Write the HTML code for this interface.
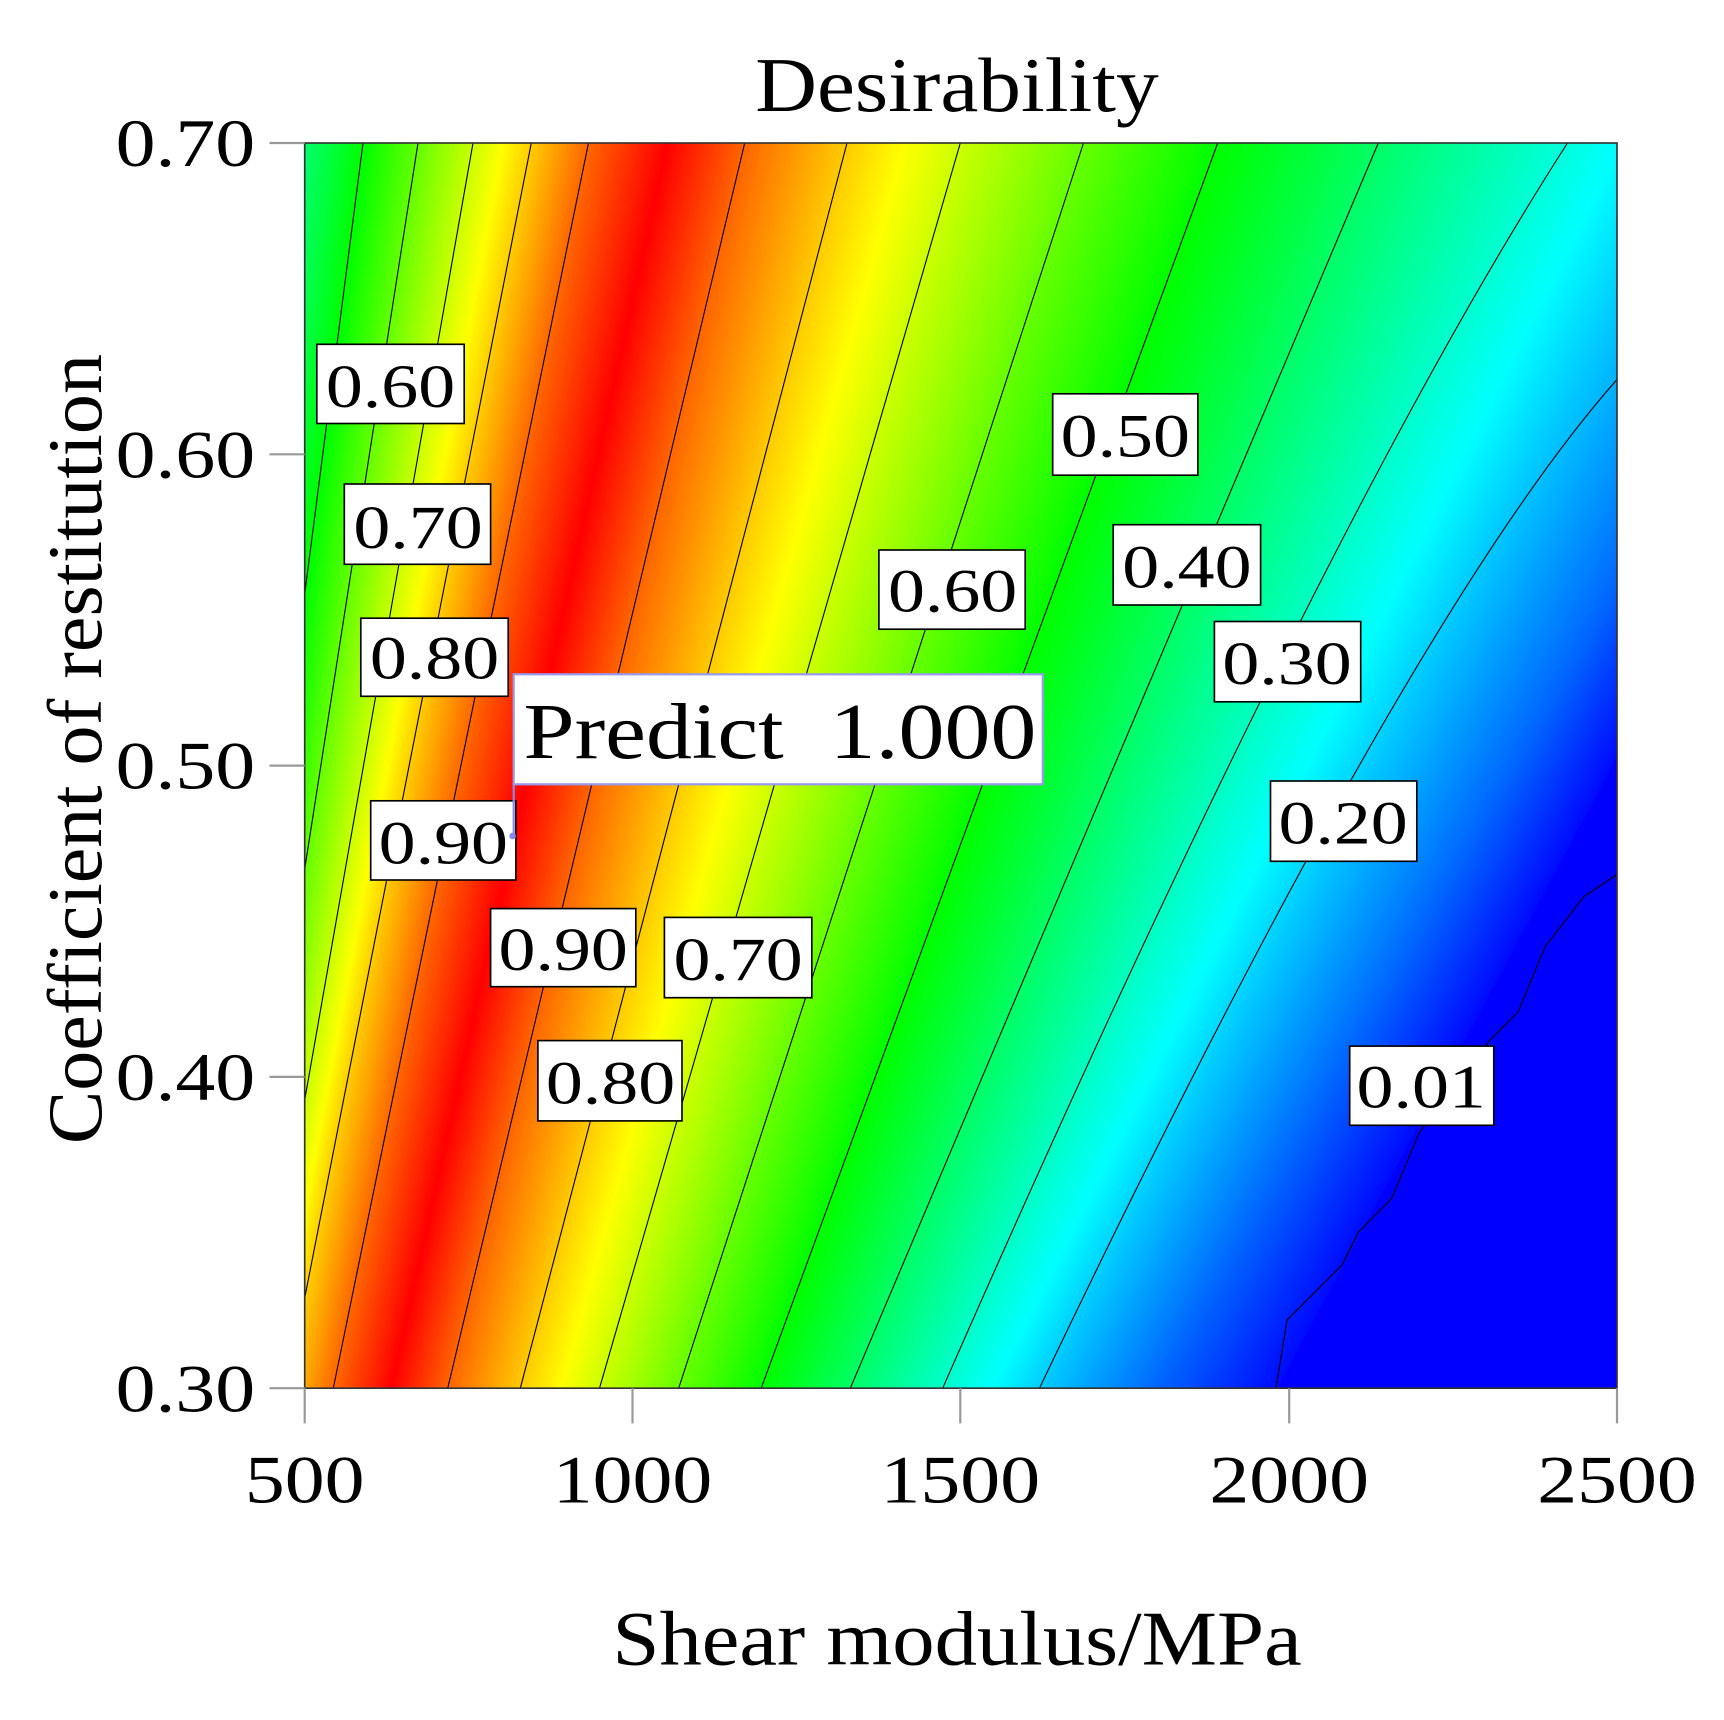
<!DOCTYPE html>
<html><head><meta charset="utf-8">
<style>
html,body{margin:0;padding:0;background:#fff;}
#wrap{position:relative;width:1724px;height:1720px;overflow:hidden;}
canvas{position:absolute;left:305px;top:143px;}
svg{position:absolute;left:0;top:0;}
text{font-family:"Liberation Serif",serif;fill:#000;}
</style></head><body>
<div id="wrap">
<canvas id="c" width="1312" height="1245"></canvas>
<svg width="1724" height="1720" viewBox="0 0 1567.27 1563.64">
<g stroke="#000" stroke-width="1" fill="none">
<line x1="330" y1="130" x2="277" y2="540"/>
<line x1="380" y1="130" x2="277" y2="790"/>
<line x1="430" y1="130" x2="277" y2="1000"/>
<line x1="483" y1="130" x2="277" y2="1180"/>
<line x1="535" y1="130" x2="303" y2="1262"/>
<line x1="677" y1="130" x2="407" y2="1262"/>
<line x1="770" y1="130" x2="473" y2="1262"/>
<line x1="873" y1="130" x2="545" y2="1262"/>
<line x1="985" y1="130" x2="617" y2="1262"/>
<line x1="1107" y1="130" x2="692" y2="1262"/>
<line x1="1253" y1="130" x2="773" y2="1262"/>
<path d="M1425,130 Q1200,480 857,1262"/>
<path d="M1470,345 Q1280,560 945,1262"/>
<polyline points="1470,795 1440,815 1405,860 1380,920 1355,945 1290,1030 1265,1090 1235,1120 1220,1150 1170,1200 1160,1262"/>
</g>
<rect x="277" y="130" width="1193" height="1132" fill="none" stroke="#333" stroke-width="1.5"/>
<g stroke="#999" stroke-width="2">
<line x1="245" y1="130" x2="277" y2="130"/><line x1="245" y1="413" x2="277" y2="413"/>
<line x1="245" y1="696" x2="277" y2="696"/><line x1="245" y1="979" x2="277" y2="979"/>
<line x1="245" y1="1262" x2="277" y2="1262"/>
<line x1="277" y1="1262" x2="277" y2="1294"/><line x1="575" y1="1262" x2="575" y2="1294"/>
<line x1="873" y1="1262" x2="873" y2="1294"/><line x1="1172" y1="1262" x2="1172" y2="1294"/>
<line x1="1470" y1="1262" x2="1470" y2="1294"/>
</g>
<g font-size="62" text-anchor="end">
<text transform="translate(232,151) scale(1.17,1)">0.70</text>
<text transform="translate(232,434) scale(1.17,1)">0.60</text>
<text transform="translate(232,717) scale(1.17,1)">0.50</text>
<text transform="translate(232,1000) scale(1.17,1)">0.40</text>
<text transform="translate(232,1283) scale(1.17,1)">0.30</text>
</g>
<g font-size="62" text-anchor="middle">
<text transform="translate(277,1366) scale(1.17,1)">500</text>
<text transform="translate(575,1366) scale(1.17,1)">1000</text>
<text transform="translate(873,1366) scale(1.17,1)">1500</text>
<text transform="translate(1172,1366) scale(1.17,1)">2000</text>
<text transform="translate(1470,1366) scale(1.17,1)">2500</text>
</g>
<text transform="translate(870,101) scale(1.11,1)" font-size="70" text-anchor="middle">Desirability</text>
<text transform="translate(870,1513) scale(1.1,1)" font-size="70" text-anchor="middle">Shear modulus/MPa</text>
<text transform="translate(92,681) rotate(-90) scale(1.04,1)" font-size="70" text-anchor="middle">Coefficient of restitution</text>
<g stroke="#000" stroke-width="1.5" fill="#fff">
<rect x="288" y="313" width="134" height="72"/><rect x="313" y="440" width="133" height="73"/>
<rect x="328" y="562" width="134" height="71"/><rect x="337" y="728" width="132" height="72"/>
<rect x="446" y="826" width="132" height="71"/><rect x="604" y="834" width="134" height="73"/>
<rect x="489" y="946" width="131" height="73"/><rect x="799" y="500" width="133" height="72"/>
<rect x="957" y="358" width="132" height="74"/><rect x="1012" y="477" width="134" height="73"/>
<rect x="1104" y="565" width="133" height="73"/><rect x="1155" y="710" width="133" height="73"/>
<rect x="1227" y="951" width="131" height="72"/>
</g>
<g font-size="56" text-anchor="middle">
<text transform="translate(355,370) scale(1.2,1)">0.60</text>
<text transform="translate(380,498) scale(1.2,1)">0.70</text>
<text transform="translate(395,617) scale(1.2,1)">0.80</text>
<text transform="translate(403,785) scale(1.2,1)">0.90</text>
<text transform="translate(512,882) scale(1.2,1)">0.90</text>
<text transform="translate(671,891) scale(1.2,1)">0.70</text>
<text transform="translate(555,1003) scale(1.2,1)">0.80</text>
<text transform="translate(866,556) scale(1.2,1)">0.60</text>
<text transform="translate(1023,415) scale(1.2,1)">0.50</text>
<text transform="translate(1079,534) scale(1.2,1)">0.40</text>
<text transform="translate(1170,622) scale(1.2,1)">0.30</text>
<text transform="translate(1221,767) scale(1.2,1)">0.20</text>
<text transform="translate(1292,1007) scale(1.2,1)">0.01</text>
</g>
<line x1="467" y1="713" x2="467" y2="760" stroke="#8888ee" stroke-width="2"/>
<circle cx="466" cy="760" r="3" fill="#8888ee"/>
<rect x="467" y="613" width="481" height="100" fill="#fff" stroke="#9999ee" stroke-width="2"/>
<text transform="translate(709,689) scale(1.16,1)" font-size="72" text-anchor="middle" xml:space="preserve">Predict  1.000</text>
</svg>
</div>
<script>
(function(){
var lines=[[330,277,540,0.5,1],[380,277,790,0.6,1],[430,277,1000,0.7,1],[483,277,1180,0.8,1],
[535,303,1262,0.9,0],[606,355,1262,1.0,0],[677,407,1262,0.9,0],[770,473,1262,0.8,0],[873,545,1262,0.7,0],
[985,617,1262,0.6,0],[1107,692,1262,0.5,0],[1253,773,1262,0.4,0],[1400,857,1262,0.3,0],[1545,945,1262,0.2,0],[1700,1050,1262,0.1,0],[1770,1160,1262,0.01,0]];
function xAt(l,y){var x1=l[0],y1=130,x2=l[1],y2=l[2];return x1+(x2-x1)*(y-y1)/(y2-y1);}
function col(v){v=Math.max(0,Math.min(1,v));var s=[[0,0,0,255],[0.25,0,255,255],[0.5,0,255,0],[0.75,255,255,0],[1,255,0,0]];
for(var i=0;i<4;i++){if(v<=s[i+1][0]){var t=(v-s[i][0])/(s[i+1][0]-s[i][0]);return[s[i][1]+(s[i+1][1]-s[i][1])*t,s[i][2]+(s[i+1][2]-s[i][2])*t,s[i][3]+(s[i+1][3]-s[i][3])*t];}}return[255,0,0];}
var c=document.getElementById('c'),ctx=c.getContext('2d'),W=c.width,H=c.height,img=ctx.createImageData(W,H),d=img.data;
for(var py=0;py<H;py++){var y=130+py/1.1;var xs=lines.map(function(l){return xAt(l,y);});
for(var px=0;px<W;px++){var x=277+px/1.1,v;
if(x<=xs[0]){v=0.5-(xs[0]-x)/(xs[1]-xs[0])*0.1;if(v<0.35)v=0.35;}
else if(x>=xs[xs.length-1]){v=0;}
else{for(var i=0;i<xs.length-1;i++){if(x<xs[i+1]){var t=(x-xs[i])/(xs[i+1]-xs[i]);v=lines[i][3]+(lines[i+1][3]-lines[i][3])*t;break;}}}
var cc=col(v),k=(py*W+px)*4;d[k]=cc[0];d[k+1]=cc[1];d[k+2]=cc[2];d[k+3]=255;}}
ctx.putImageData(img,0,0);
})();
</script>
</body></html>
